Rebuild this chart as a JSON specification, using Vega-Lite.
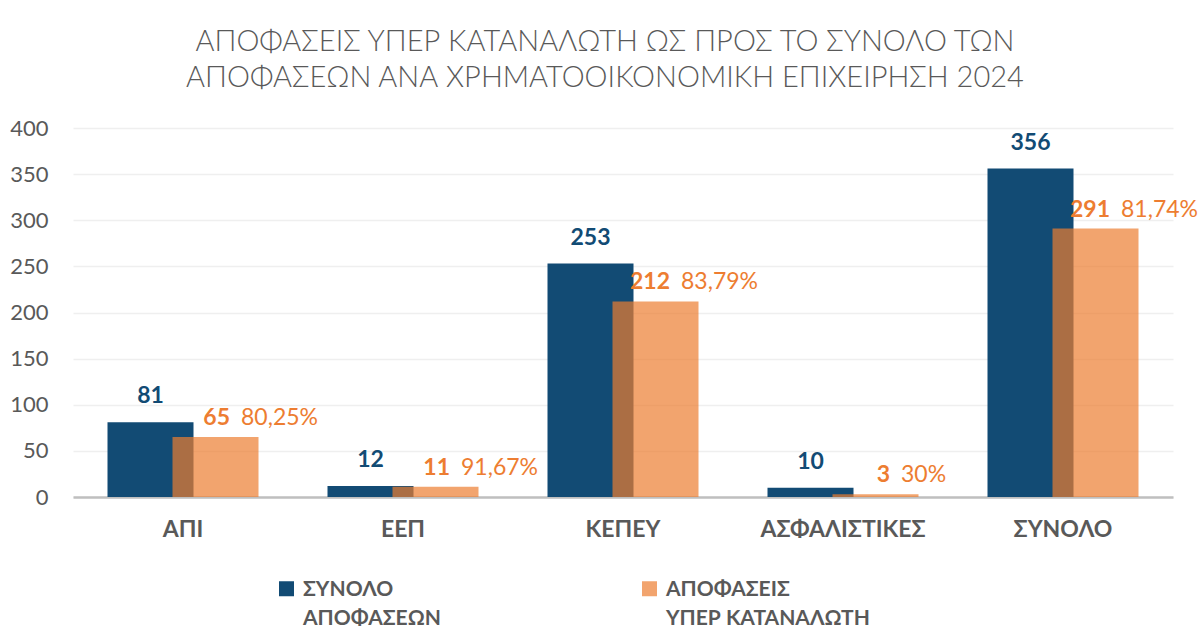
{
  "$schema": "https://vega.github.io/schema/vega-lite/v6.json",
  "autosize": "none",
  "width": 1100,
  "height": 369,
  "padding": {"left": 73, "top": 128, "right": 28, "bottom": 135},
  "background": "white",
  "title": {
    "text": ["ΑΠΟΦΑΣΕΙΣ ΥΠΕΡ ΚΑΤΑΝΑΛΩΤΗ ΩΣ ΠΡΟΣ ΤΟ ΣΥΝΟΛΟ ΤΩΝ", "ΑΠΟΦΑΣΕΩΝ ΑΝΑ ΧΡΗΜΑΤΟΟΙΚΟΝΟΜΙΚΗ ΕΠΙΧΕΙΡΗΣΗ 2024"],
    "font": "Lato",
    "fontSize": 29,
    "fontWeight": 300,
    "color": "#595959",
    "lineHeight": 36,
    "anchor": "middle",
    "dx": -18,
    "offset": 24
  },
  "data": {
    "values": [
      {"cat": "ΑΠΙ", "total": 81, "fav": 65, "pct": "80,25%"},
      {"cat": "ΕΕΠ", "total": 12, "fav": 11, "pct": "91,67%"},
      {"cat": "ΚΕΠΕΥ", "total": 253, "fav": 212, "pct": "83,79%"},
      {"cat": "ΑΣΦΑΛΙΣΤΙΚΕΣ", "total": 10, "fav": 3, "pct": "30%"},
      {"cat": "ΣΥΝΟΛΟ", "total": 356, "fav": 291, "pct": "81,74%"}
    ]
  },
  "encoding": {
    "x": {
      "field": "cat", "type": "nominal", "sort": null,
      "scale": {"paddingInner": 0, "paddingOuter": 0},
      "axis": {
        "title": null, "labelAngle": 0, "ticks": false,
        "domainColor": "#BFBFBF", "domainWidth": 2.5,
        "labelFont": "Lato", "labelFontSize": 23, "labelFontWeight": "bold",
        "labelColor": "#595959", "labelPadding": 21
      }
    }
  },
  "layer": [
    {
      "mark": {"type": "bar", "width": 86, "xOffset": -32.5},
      "encoding": {
        "y": {
          "field": "total", "type": "quantitative",
          "scale": {"domain": [0, 400]},
          "axis": {
            "title": null, "values": [0, 50, 100, 150, 200, 250, 300, 350, 400],
            "labelOverlap": false,
            "domain": false, "ticks": false, "labelPadding": 25,
            "labelFont": "Lato", "labelFontSize": 22, "labelColor": "#595959",
            "gridColor": "#EFEFEF", "gridWidth": 1.5
          }
        },
        "color": {
          "datum": "ΣΥΝΟΛΟ ΑΠΟΦΑΣΕΩΝ",
          "scale": {
            "domain": ["ΣΥΝΟΛΟ ΑΠΟΦΑΣΕΩΝ", "ΑΠΟΦΑΣΕΙΣ ΥΠΕΡ ΚΑΤΑΝΑΛΩΤΗ"],
            "range": ["#124B74", "rgba(237,125,49,0.7)"]
          },
          "legend": {
            "title": null, "orient": "none", "legendX": 203, "legendY": 450,
            "direction": "horizontal", "columns": 2, "columnPadding": 198,
            "symbolType": "square", "symbolSize": 225, "symbolStrokeWidth": 0,
            "labelFont": "Lato", "labelFontSize": 21, "labelFontWeight": "bold",
            "labelColor": "#595959", "labelOffset": 6,
            "labelBaseline": "alphabetic", "labelLimit": 400,
            "labelExpr": "datum.label == 'ΣΥΝΟΛΟ ΑΠΟΦΑΣΕΩΝ' ? ['ΣΥΝΟΛΟ', 'ΑΠΟΦΑΣΕΩΝ'] : ['ΑΠΟΦΑΣΕΙΣ', 'ΥΠΕΡ ΚΑΤΑΝΑΛΩΤΗ']",
            "encode": {"labels": {"update": {"lineHeight": {"value": 29}, "dy": {"value": 7}}}}
          }
        }
      }
    },
    {
      "mark": {"type": "bar", "width": 86, "xOffset": 32.5},
      "encoding": {
        "y": {"field": "fav", "type": "quantitative"},
        "color": {"datum": "ΑΠΟΦΑΣΕΙΣ ΥΠΕΡ ΚΑΤΑΝΑΛΩΤΗ"}
      }
    },
    {
      "mark": {"type": "text", "xOffset": -32.5, "dy": -14, "baseline": "bottom", "font": "Lato", "fontSize": 23, "fontWeight": "bold", "color": "#124B74"},
      "encoding": {
        "y": {"field": "total", "type": "quantitative"},
        "text": {"field": "total", "type": "quantitative"}
      }
    },
    {
      "mark": {"type": "text", "xOffset": 47, "dy": -7, "align": "right", "baseline": "bottom", "font": "Lato", "fontSize": 23, "fontWeight": "bold", "color": "#ED7D31"},
      "encoding": {
        "y": {"field": "fav", "type": "quantitative"},
        "text": {"field": "fav", "type": "quantitative"}
      }
    },
    {
      "mark": {"type": "text", "xOffset": 58, "dy": -7, "align": "left", "baseline": "bottom", "font": "Lato", "fontSize": 23, "color": "#ED7D31"},
      "encoding": {
        "y": {"field": "fav", "type": "quantitative"},
        "text": {"field": "pct", "type": "nominal"}
      }
    }
  ],
  "config": {"view": {"stroke": null}}
}
